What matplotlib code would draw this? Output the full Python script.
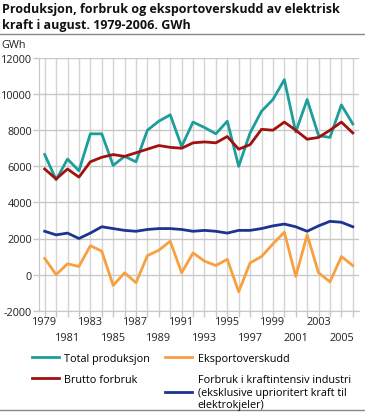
import numpy as np
import matplotlib
matplotlib.use("Agg")
import matplotlib.pyplot as plt
from matplotlib.lines import Line2D
from matplotlib.ticker import FixedLocator, FixedFormatter

plt.rcParams['font.family'] = ['Open Sans', 'DejaVu Sans']

# data (GWh, august)
years = list(range(1979, 2007))
total_prod = [6650, 5250, 6400, 5750, 7800, 7800, 6050, 6550, 6250, 8000,
              8500, 8850, 7100, 8450, 8150, 7800, 8500, 6000, 7850, 9050,
              9700, 10800, 7900, 9700, 7700, 7600, 9400, 8350]
brutto = [5850, 5300, 5850, 5400, 6250, 6500, 6650, 6550, 6750, 6950,
          7150, 7050, 7000, 7300, 7350, 7300, 7650, 6950, 7200, 8050,
          8000, 8450, 8000, 7500, 7600, 8000, 8450, 7850]
eksport = [900, 0, 600, 450, 1600, 1300, -600, 100, -450, 1050,
           1350, 1850, 100, 1200, 750, 500, 850, -950, 650, 1000,
           1700, 2350, -100, 2200, 100, -400, 1000, 500]
kraftint = [2400, 2200, 2300, 2000, 2300, 2650, 2550, 2450, 2400, 2500,
            2550, 2550, 2500, 2400, 2450, 2400, 2300, 2450, 2450, 2550,
            2700, 2800, 2650, 2400, 2700, 2950, 2900, 2650]

lab_total = 'Total produksjon'
lab_eksport = 'Eksportoverskudd'
lab_brutto = 'Brutto forbruk'
lab_kraft = 'Forbruk i kraftintensiv industri\n(eksklusive uprioritert kraft til\nelektrokjeler)'
c_teal = '#1c9e9b'
c_orange = '#f8a040'
c_red = '#a0120f'
c_navy = '#1b3590'

fig = plt.figure(figsize=(3.65, 4.14), dpi=100)
ax = fig.add_axes([39/365, 1 - 311.7/414, (358.5 - 39)/365, (311.7 - 59)/414])

ax.plot(years, total_prod, color=c_teal, lw=2)
ax.plot(years, eksport, color=c_orange, lw=2)
ax.plot(years, brutto, color=c_red, lw=2)
ax.plot(years, kraftint, color=c_navy, lw=2)

ax.set_xlim(1978.5, 2006.5)
ax.set_ylim(-2000, 12000)
ax.set_yticks(range(-2000, 12001, 2000))
ax.set_yticklabels([str(v) for v in range(-2000, 12001, 2000)])

row1 = [y for y in years if (y - 1979) % 4 == 0]
rest = [y for y in years if y not in row1]
ax.xaxis.set_major_locator(FixedLocator(row1))
ax.xaxis.set_major_formatter(FixedFormatter([str(y) for y in row1]))
ax.xaxis.set_minor_locator(FixedLocator(rest))
ax.xaxis.set_minor_formatter(FixedFormatter([str(y) if y % 2 == 1 else '' for y in rest]))

ax.grid(True, axis='x', which='both', color='#d4d4d4', lw=1)
ax.grid(True, axis='y', color='#c8c8c8', lw=1)
ax.set_axisbelow(True)
for s in ['top', 'right']:
    ax.spines[s].set_visible(False)
ax.spines['left'].set_color('#c8c8c8')
ax.spines['bottom'].set_color('#c8c8c8')
ax.tick_params(axis='both', which='both', colors='#c8c8c8', labelcolor='#222222',
               labelsize=7.8, length=4, width=1)
ax.tick_params(axis='y', pad=1)
ax.tick_params(axis='x', which='major', pad=0)
ax.tick_params(axis='x', which='minor', pad=11)

fig.text(0.005, 1 - 3/414, 'Produksjon, forbruk og eksportoverskudd av elektrisk\nkraft i august. 1979-2006. GWh',
         ha='left', va='top', fontsize=9.0, fontweight='bold', color='#111111', linespacing=1.25)
fig.add_artist(Line2D([0, 1], [1 - 35/414, 1 - 35/414], color='#888888', lw=1))
fig.add_artist(Line2D([0, 1], [1 - 411/414, 1 - 411/414], color='#888888', lw=1))
fig.text(0.005, 1 - 45/414, 'GWh', ha='left', va='center', fontsize=7.8, color='#222222')

handles = [Line2D([], [], color=c, lw=2) for c in (c_teal, c_red, c_orange, c_navy)]
leg = fig.legend(handles, [lab_total, lab_brutto, lab_eksport, lab_kraft], ncol=2,
                 loc='upper left', bbox_to_anchor=(22/365, 1 - 344/414),
                 frameon=False, fontsize=7.8, handlelength=2.5, handletextpad=0.5,
                 columnspacing=1.4, labelspacing=0.95)

fig.savefig('out.png', dpi=100)
